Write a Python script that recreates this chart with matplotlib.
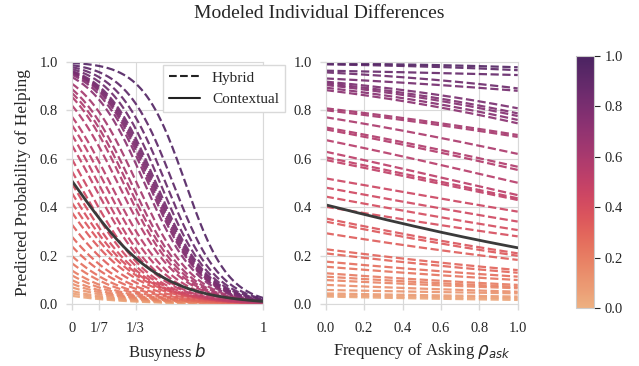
import numpy as np
import matplotlib
matplotlib.use("Agg")
import matplotlib.pyplot as plt
import seaborn as sns
from matplotlib.lines import Line2D
import matplotlib as mpl

# ---------------- data ----------------
# colour value of each modeled individual
trait = [0.96, 0.92, 0.88, 0.85, 0.82, 0.80, 0.78, 0.76, 0.75, 0.73,
         0.62, 0.61, 0.59, 0.57, 0.56, 0.54, 0.52, 0.51, 0.50, 0.45,
         0.43, 0.41, 0.40, 0.36, 0.35, 0.33, 0.30, 0.29, 0.26, 0.24,
         0.21, 0.19, 0.17, 0.14, 0.11, 0.08, 0.06, 0.04]

# Left panel: predicted probability at b = 0 and b = 1 (logistic in b)
busy_p0 = [0.995, 0.986, 0.978, 0.970, 0.962, 0.959, 0.956, 0.953, 0.947, 0.937,
           0.910, 0.888, 0.872, 0.856, 0.821, 0.775, 0.740, 0.700, 0.657, 0.600,
           0.550, 0.500, 0.460, 0.420, 0.380, 0.330, 0.280, 0.240, 0.200, 0.170,
           0.140, 0.120, 0.100, 0.085, 0.070, 0.055, 0.045, 0.035]
busy_p1 = [0.026, 0.022, 0.019, 0.017, 0.016, 0.015, 0.014, 0.013, 0.013, 0.012,
           0.011, 0.010, 0.009, 0.008, 0.008, 0.007, 0.006, 0.005, 0.005, 0.0045,
           0.0045, 0.0045, 0.0047, 0.0049, 0.0046, 0.0040, 0.0035, 0.0032, 0.0027, 0.0025,
           0.0022, 0.0020, 0.0018, 0.0017, 0.0016, 0.0015, 0.0013, 0.0011]

# Right panel: predicted probability at rho_ask = 0 and rho_ask = 1
ask_p0 = [0.993, 0.989, 0.963, 0.956, 0.931, 0.918, 0.911, 0.904, 0.893, 0.883,
          0.808, 0.800, 0.771, 0.729, 0.721, 0.677, 0.629, 0.606, 0.595, 0.519,
          0.481, 0.444, 0.402, 0.354, 0.341, 0.293, 0.227, 0.210, 0.176, 0.155,
          0.128, 0.114, 0.100, 0.080, 0.059, 0.045, 0.038, 0.032]
ask_p1 = [0.977, 0.965, 0.945, 0.890, 0.880, 0.808, 0.787, 0.776, 0.760, 0.746,
          0.698, 0.690, 0.620, 0.567, 0.554, 0.501, 0.450, 0.437, 0.430, 0.382,
          0.341, 0.306, 0.280, 0.210, 0.200, 0.183, 0.141, 0.130, 0.114, 0.100,
          0.080, 0.072, 0.066, 0.052, 0.045, 0.032, 0.025, 0.018]

# Contextual model (population level)
ctx_busy = [0.51, 0.012]
ctx_ask = [0.41, 0.233]

busy_ticks = [0, 1/7, 1/3, 1]
busy_ticklabels = ["0", "1/7", "1/3", "1"]
ask_ticks = [0.0, 0.2, 0.4, 0.6, 0.8, 1.0]
prob_ticks = [0.0, 0.2, 0.4, 0.6, 0.8, 1.0]

# ---------------- style ----------------
sns.set_style("whitegrid")
plt.rcParams['font.family'] = ['Liberation Serif', 'DejaVu Serif']
plt.rcParams['mathtext.fontset'] = 'dejavusans'
plt.rcParams['axes.edgecolor'] = '0.85'
plt.rcParams['grid.color'] = '0.85'
plt.rcParams['xtick.bottom'] = True
plt.rcParams['ytick.left'] = True
plt.rcParams['xtick.color'] = '0.85'
plt.rcParams['ytick.color'] = '0.85'
plt.rcParams['xtick.labelcolor'] = '0.15'
plt.rcParams['ytick.labelcolor'] = '0.15'

cmap = sns.color_palette("flare", as_cmap=True)
norm = mpl.colors.Normalize(0, 1)

def logit(p):
    p = np.asarray(p, float)
    return np.log(p / (1 - p))

def curve(x, p_start, p_end):
    # logistic model: linear in log-odds between the two read endpoints
    z = logit(p_start) + (logit(p_end) - logit(p_start)) * x
    return 1 / (1 + np.exp(-z))

W, H = 639, 366
fig = plt.figure(figsize=(W / 100, H / 100), dpi=100)
ax1 = fig.add_axes([71.7 / W, 1 - 304.3 / H, 191.6 / W, 242.6 / H])
ax2 = fig.add_axes([325.7 / W, 1 - 304.3 / H, 192 / W, 242.6 / H])
cax = fig.add_axes([575.7 / W, 1 - 308.3 / H, 18.3 / W, 252.3 / H])

x = np.linspace(0, 1, 200)
order = np.argsort(trait)
for i in order:
    col = cmap(norm(trait[i]))
    ax1.plot(x, curve(x, busy_p0[i], busy_p1[i]), ls='--', color=col, lw=1.6, alpha=0.92)
    ax2.plot(x, curve(x, ask_p0[i], ask_p1[i]), ls='--', color=col, lw=1.6, alpha=0.92)

ax1.plot(x, curve(x, *ctx_busy), color='#3a3a3a', lw=2)
ax2.plot(x, curve(x, *ctx_ask), color='#3a3a3a', lw=2)

for ax in (ax1, ax2):
    ax.set_xlim(0, 1)
    ax.set_ylim(0, 1)
    ax.set_yticks(prob_ticks)
    ax.set_yticklabels([f"{t:.1f}" for t in prob_ticks])
    ax.tick_params(axis='y', labelsize=10.5, length=4, width=1, pad=6)
    ax.tick_params(axis='x', labelsize=10.5, length=4, width=1, pad=9)

ax1.set_xticks(busy_ticks)
ax1.set_xticklabels(busy_ticklabels)
ax2.set_xticks(ask_ticks)
ax2.set_xticklabels([f"{t:.1f}" for t in ask_ticks])

ax1.set_xlabel("Busyness $b$", fontsize=12, labelpad=4)
ax2.set_xlabel(r"Frequency of Asking $\rho_{ask}$", fontsize=12, labelpad=4)
ax1.set_ylabel("Predicted Probability of Helping", fontsize=12.5, labelpad=6)

handles = [Line2D([], [], color='#222222', ls='--', lw=1.5),
           Line2D([], [], color='#222222', ls='-', lw=1.5)]
leg = ax1.legend(handles, ["Hybrid", "Contextual"], loc='upper right',
                 bbox_to_anchor=(285 / W, 1 - 65 / H), bbox_transform=fig.transFigure,
                 fontsize=11, frameon=True, fancybox=False, borderaxespad=0)
leg.get_frame().set_edgecolor('0.85')
leg.get_frame().set_alpha(1)

cb = mpl.colorbar.ColorbarBase(cax, cmap=cmap, norm=norm)
cb.outline.set_edgecolor('0.8')
cb.set_ticks(prob_ticks)
cb.set_ticklabels([f"{t:.1f}" for t in prob_ticks])
cax.tick_params(labelsize=10.5, length=4, color='0.15', labelcolor='0.15')
cax.grid(False)

fig.text(0.5, 1 - 13 / H, "Modeled Individual Differences", ha='center', va='center',
         fontsize=14, color='0.15')

fig.savefig("out.png", dpi=100)
